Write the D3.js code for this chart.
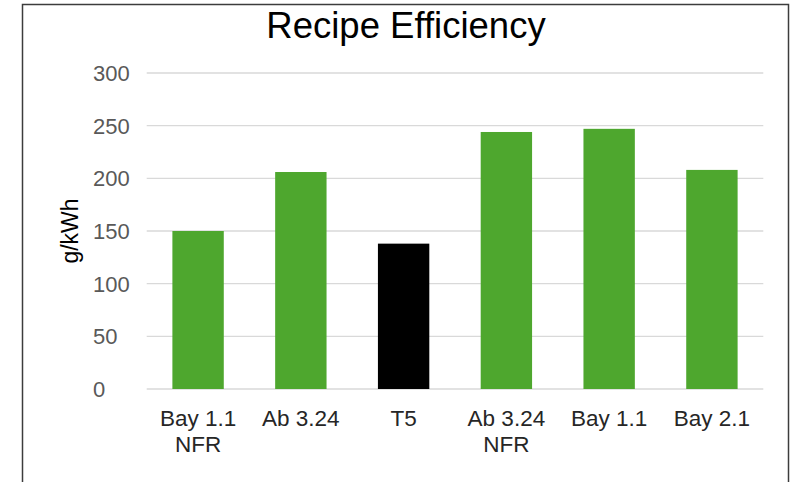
<!DOCTYPE html>
<html>
<head>
<meta charset="utf-8">
<script src="https://cdn.jsdelivr.net/npm/d3@7"></script>
<style>
  html, body { margin: 0; padding: 0; background: #fff; }
  svg { display: block; font-family: "Liberation Sans", Arial, sans-serif; }
</style>
</head>
<body>
<svg id="chart" width="795" height="482"></svg>
<script>
const categories = [["Bay 1.1", "NFR"], ["Ab 3.24"], ["T5"], ["Ab 3.24", "NFR"], ["Bay 1.1"], ["Bay 2.1"]];
const values = [150, 206, 138, 244, 247, 208];
const barColors = ["#4ea72e", "#4ea72e", "#000000", "#4ea72e", "#4ea72e", "#4ea72e"];
const yTicks = [0, 50, 100, 150, 200, 250, 300];
const title = "Recipe Efficiency";
const yTitle = "g/kWh";

const svg = d3.select("#chart");
const W = 795, H = 482;
const plot = { left: 146.7, right: 763.3, top: 73, bottom: 389 };

svg.append("rect").attr("width", W).attr("height", H).attr("fill", "#fff");

// outer border
svg.append("rect")
  .attr("x", 22.5).attr("y", 4.5)
  .attr("width", 766).attr("height", 490)
  .attr("fill", "none").attr("stroke", "#3c3c3c").attr("stroke-width", 1.5);

const x = d3.scaleBand()
  .domain(d3.range(categories.length))
  .range([plot.left, plot.right])
  .paddingInner(0.5).paddingOuter(0.25);

const y = d3.scaleLinear().domain([0, 300]).range([plot.bottom, plot.top]);

// gridlines
svg.append("g").selectAll("line").data(yTicks).join("line")
  .attr("x1", plot.left).attr("x2", plot.right)
  .attr("y1", d => y(d)).attr("y2", d => y(d))
  .attr("stroke", "#d9d9d9").attr("stroke-width", 1.4);

// y tick labels
svg.append("g").selectAll("text").data(yTicks).join("text")
  .attr("x", 93).attr("y", d => y(d))
  .attr("dy", "0.36em")
  .attr("text-anchor", "start")
  .attr("font-size", 22)
  .attr("fill", "#595959")
  .text(d => d);

// bars
svg.append("g").selectAll("rect").data(values).join("rect")
  .attr("x", (d, i) => x(i))
  .attr("width", x.bandwidth())
  .attr("y", d => y(d))
  .attr("height", d => y(0) - y(d))
  .attr("fill", (d, i) => barColors[i]);

// x labels
const xl = svg.append("g").selectAll("text").data(categories).join("text")
  .attr("x", (d, i) => x(i) + x.bandwidth() / 2)
  .attr("y", 426)
  .attr("text-anchor", "middle")
  .attr("font-size", 22.5)
  .attr("fill", "#262626");
xl.selectAll("tspan").data(d => d).join("tspan")
  .attr("x", function () { return d3.select(this.parentNode).attr("x"); })
  .attr("dy", (d, j) => j === 0 ? 0 : 25.5)
  .text(d => d);

// title
svg.append("text")
  .attr("x", 406).attr("y", 38)
  .attr("text-anchor", "middle")
  .attr("font-size", 36.5)
  .attr("fill", "#000")
  .text(title);

// y axis title
svg.append("text")
  .attr("transform", "translate(78,231) rotate(-90)")
  .attr("text-anchor", "middle")
  .attr("font-size", 23)
  .attr("fill", "#000")
  .text(yTitle);
</script>
</body>
</html>
